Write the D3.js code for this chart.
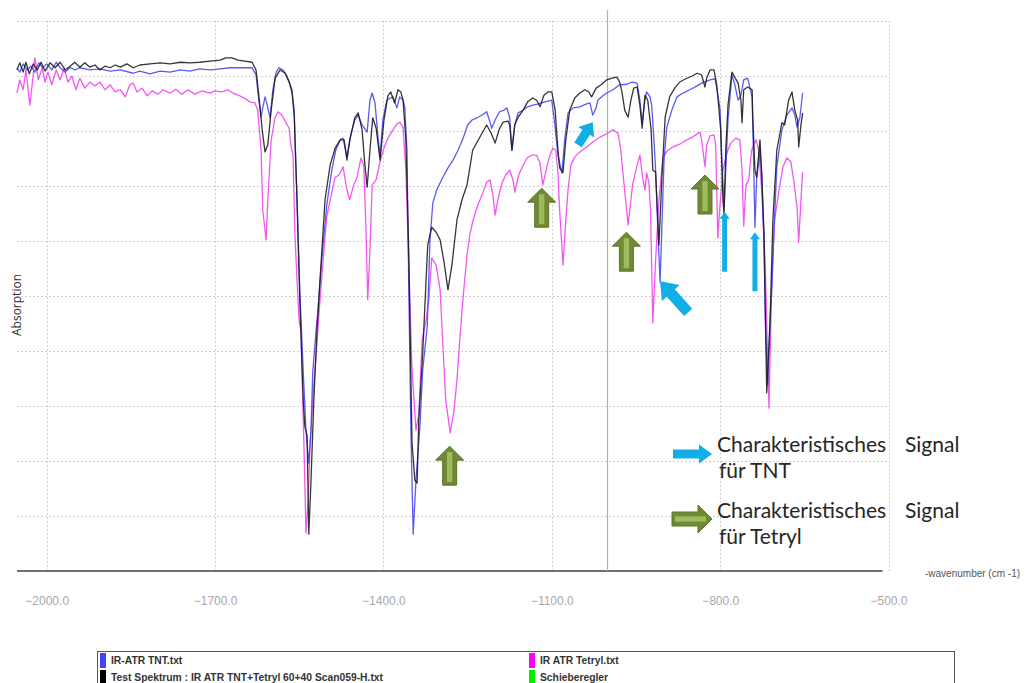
<!DOCTYPE html>
<html>
<head>
<meta charset="utf-8">
<script src="https://cdn.jsdelivr.net/npm/d3@7"></script>
<style>
  html, body { margin: 0; padding: 0; background: #fff; }
  svg { display: block; }
</style>
</head>
<body>
<svg id="chart" width="1028" height="683"></svg>
<script>
// ---- data: [negative wavenumber (cm-1), absorption (relative units)] ----
const tntSpectrum = [
  [-2053,91.5],[-2048,90.7],[-2042,92.2],[-2035,91.1],[-2028,91.8],[-2021,90.7],[-2014,92.4],[-2007,91.5],
  [-2000,92.2],[-1991,91.1],[-1983,92.5],[-1976,91.5],[-1967,90.7],[-1958,91.6],[-1950,91.1],[-1941,91.5],
  [-1923,91.1],[-1905,91.3],[-1887,90.9],[-1869,91.1],[-1846,90.5],[-1834,90.9],[-1816,90.4],[-1798,90.9],
  [-1780,90.7],[-1762,91.1],[-1745,90.9],[-1727,91.3],[-1709,91.1],[-1691,91.3],[-1673,91.5],[-1656,91.5],
  [-1643,91.5],[-1634,91.5],[-1627,90.2],[-1622,85.6],[-1618,82.5],[-1615,84.2],[-1611,86.2],[-1607,84.7],
  [-1602,82.4],[-1597,87.5],[-1591,90.7],[-1586,91.5],[-1579,91.1],[-1572,90.0],[-1567,88.7],[-1563,87.5],
  [-1559,83.8],[-1554,67.5],[-1549,51.1],[-1543,36.5],[-1538,25.6],[-1533,19.6],[-1529,25.6],[-1526,36.0],
  [-1520,43.8],[-1517,46.9],[-1510,56.5],[-1501,66.5],[-1492,72.9],[-1485,76.5],[-1477,78.4],[-1472,78.7],
  [-1465,75.3],[-1458,79.3],[-1451,82.0],[-1445,82.9],[-1438,81.1],[-1429,79.8],[-1424,85.6],[-1420,86.9],
  [-1415,85.1],[-1410,79.3],[-1406,75.3],[-1401,82.0],[-1394,85.6],[-1388,86.0],[-1383,86.2],[-1376,84.2],
  [-1371,86.2],[-1365,85.6],[-1362,84.4],[-1358,76.5],[-1355,52.9],[-1351,25.6],[-1347,6.7],[-1342,16.5],
  [-1335,26.2],[-1330,36.5],[-1322,44.4],[-1317,60.2],[-1312,66.9],[-1305,69.3],[-1294,71.6],[-1285,73.3],
  [-1276,74.7],[-1267,76.5],[-1258,78.7],[-1250,81.1],[-1242,82.0],[-1233,82.4],[-1224,82.9],[-1216,83.5],
  [-1210,81.6],[-1207,80.5],[-1201,82.0],[-1193,83.5],[-1185,83.8],[-1180,84.2],[-1175,82.4],[-1171,76.5],
  [-1166,81.1],[-1160,83.3],[-1151,83.8],[-1143,84.4],[-1134,84.7],[-1125,84.9],[-1112,85.3],[-1100,85.6],
  [-1094,80.7],[-1089,75.6],[-1082,72.4],[-1077,78.4],[-1071,83.3],[-1062,84.2],[-1050,84.4],[-1039,84.9],
  [-1032,85.1],[-1027,82.9],[-1021,84.2],[-1018,85.6],[-1009,86.4],[-1002,86.9],[-991,87.5],[-979,88.4],
  [-966,88.5],[-957,88.9],[-948,88.7],[-943,85.6],[-939,81.5],[-934,85.6],[-931,87.1],[-925,86.2],
  [-922,84.7],[-918,78.4],[-915,72.9],[-911,62.0],[-907,52.5],[-904,62.0],[-900,74.7],[-895,80.7],
  [-886,83.8],[-877,86.2],[-866,86.9],[-854,87.5],[-841,88.2],[-833,88.7],[-818,89.3],[-809,89.5],
  [-804,86.5],[-800,83.8],[-797,74.7],[-793,66.2],[-790,72.9],[-786,82.0],[-779,90.2],[-774,88.5],
  [-768,85.6],[-763,86.5],[-758,89.3],[-751,89.6],[-743,86.2],[-740,72.9],[-738,62.5],[-735,71.1],
  [-729,76.5],[-726,72.4],[-722,60.2],[-719,43.8],[-715,33.8],[-711,45.6],[-708,51.1],[-704,62.0],
  [-699,73.5],[-690,80.2],[-681,82.9],[-672,84.2],[-667,82.9],[-663,80.7],[-658,82.4],[-653,86.9]
];

const tetrylSpectrum = [
  [-2053,86.9],[-2048,89.3],[-2042,87.5],[-2037,91.1],[-2030,84.7],[-2024,90.2],[-2021,93.3],[-2015,89.3],
  [-2008,91.5],[-2003,88.9],[-1998,90.7],[-1991,88.4],[-1983,91.1],[-1976,89.3],[-1969,91.5],[-1962,88.9],
  [-1955,90.0],[-1948,87.5],[-1941,89.6],[-1932,87.8],[-1923,88.9],[-1914,88.2],[-1905,88.9],[-1896,87.5],
  [-1887,88.4],[-1878,87.1],[-1869,87.5],[-1860,86.2],[-1852,88.4],[-1846,88.7],[-1839,87.1],[-1830,87.8],
  [-1821,86.4],[-1812,87.3],[-1802,86.7],[-1793,87.5],[-1780,86.9],[-1770,87.6],[-1759,86.7],[-1748,87.5],
  [-1736,86.7],[-1723,87.3],[-1709,86.9],[-1700,87.3],[-1688,87.1],[-1677,87.5],[-1668,86.9],[-1656,86.4],
  [-1645,85.8],[-1638,85.3],[-1629,85.1],[-1624,83.8],[-1618,76.5],[-1615,65.6],[-1609,60.2],[-1606,67.5],
  [-1600,78.4],[-1593,82.5],[-1588,83.5],[-1581,82.9],[-1574,81.6],[-1568,80.5],[-1565,77.5],[-1561,75.6],
  [-1558,62.0],[-1554,52.9],[-1550,45.3],[-1547,43.8],[-1543,28.7],[-1538,6.9],[-1534,12.9],[-1531,22.5],
  [-1526,31.1],[-1520,39.3],[-1513,49.3],[-1506,58.4],[-1501,64.4],[-1493,68.4],[-1486,71.6],[-1479,72.0],
  [-1472,73.5],[-1465,69.3],[-1460,67.5],[-1453,70.2],[-1447,71.6],[-1440,75.1],[-1435,73.8],[-1431,62.0],
  [-1428,49.3],[-1424,58.4],[-1420,70.2],[-1413,71.1],[-1406,74.4],[-1399,76.9],[-1392,78.7],[-1383,80.2],
  [-1376,81.3],[-1371,81.6],[-1365,80.7],[-1360,72.9],[-1355,56.5],[-1349,36.5],[-1342,25.6],[-1337,28.4],
  [-1331,42.0],[-1324,45.6],[-1319,49.3],[-1314,56.9],[-1306,55.6],[-1299,51.1],[-1294,41.1],[-1289,31.1],
  [-1281,25.1],[-1274,29.3],[-1269,34.7],[-1264,42.0],[-1258,49.8],[-1251,57.5],[-1246,61.1],[-1241,63.5],
  [-1232,66.5],[-1223,68.7],[-1216,70.7],[-1210,71.1],[-1205,68.4],[-1201,64.7],[-1196,67.5],[-1189,70.5],
  [-1182,72.0],[-1175,72.9],[-1169,71.1],[-1166,68.9],[-1159,72.0],[-1152,73.6],[-1144,75.1],[-1136,75.6],
  [-1127,75.6],[-1121,74.2],[-1116,70.2],[-1110,72.9],[-1105,75.1],[-1098,76.9],[-1093,76.5],[-1089,72.5],
  [-1086,65.6],[-1080,55.6],[-1075,63.8],[-1071,69.3],[-1066,73.8],[-1059,75.3],[-1050,76.2],[-1038,77.1],
  [-1027,78.0],[-1014,78.9],[-1002,79.5],[-991,80.2],[-982,79.6],[-977,76.5],[-972,71.1],[-964,62.9],
  [-959,67.5],[-956,70.2],[-948,73.8],[-943,75.6],[-938,71.5],[-934,69.3],[-931,72.4],[-927,70.7],
  [-924,65.6],[-920,45.1],[-915,56.5],[-909,67.5],[-902,75.3],[-893,76.5],[-884,77.1],[-872,77.6],
  [-859,78.4],[-849,78.9],[-836,79.8],[-833,78.4],[-827,73.5],[-824,77.5],[-818,79.1],[-811,79.3],
  [-808,77.5],[-804,60.5],[-801,65.6],[-795,72.9],[-788,76.0],[-781,77.8],[-772,78.7],[-765,78.4],
  [-761,72.9],[-758,62.7],[-754,70.2],[-749,71.1],[-744,76.5],[-736,78.4],[-731,76.5],[-726,69.3],
  [-720,56.5],[-713,29.6],[-708,52.9],[-703,63.8],[-695,69.3],[-688,73.5],[-681,75.1],[-674,74.4],
  [-669,71.1],[-663,66.2],[-660,59.8],[-656,67.5],[-653,72.5]
];

const mixSpectrum = [
  [-2053,91.1],[-2048,92.4],[-2042,90.7],[-2037,92.5],[-2031,90.4],[-2024,92.2],[-2017,91.1],[-2010,92.5],
  [-2003,90.9],[-1994,92.4],[-1985,91.5],[-1976,92.5],[-1967,91.1],[-1958,91.8],[-1950,92.5],[-1941,91.6],
  [-1932,92.4],[-1923,91.6],[-1914,92.0],[-1905,91.1],[-1896,91.8],[-1887,91.5],[-1878,92.0],[-1869,91.6],
  [-1857,92.2],[-1846,91.5],[-1834,92.0],[-1816,92.2],[-1798,92.4],[-1780,92.2],[-1762,92.5],[-1745,92.4],
  [-1727,92.5],[-1709,92.7],[-1691,92.9],[-1681,93.3],[-1670,93.3],[-1659,92.9],[-1647,92.7],[-1634,92.5],
  [-1627,91.1],[-1622,86.5],[-1616,80.2],[-1611,76.2],[-1606,77.5],[-1600,83.8],[-1593,89.6],[-1584,91.1],
  [-1575,90.5],[-1568,88.9],[-1563,87.1],[-1559,82.9],[-1554,67.5],[-1549,49.3],[-1543,31.1],[-1540,26.2],
  [-1536,24.7],[-1533,6.7],[-1529,16.5],[-1524,31.1],[-1518,44.4],[-1513,52.9],[-1504,67.5],[-1495,73.8],
  [-1486,76.9],[-1477,78.4],[-1470,78.4],[-1465,74.7],[-1460,78.4],[-1451,82.4],[-1445,83.3],[-1438,80.2],
  [-1433,73.8],[-1429,69.8],[-1424,76.5],[-1419,82.4],[-1413,80.5],[-1406,74.7],[-1399,82.0],[-1392,86.4],
  [-1387,87.1],[-1380,85.1],[-1374,87.5],[-1369,87.1],[-1365,85.6],[-1360,78.4],[-1355,58.4],[-1349,23.3],
  [-1344,16.5],[-1340,16.0],[-1337,27.5],[-1330,39.6],[-1324,52.9],[-1321,59.3],[-1314,62.5],[-1306,61.6],
  [-1299,60.2],[-1292,56.2],[-1285,51.1],[-1278,55.6],[-1269,63.8],[-1260,67.5],[-1251,70.2],[-1241,76.5],
  [-1228,78.9],[-1216,81.1],[-1208,79.6],[-1201,77.8],[-1194,80.2],[-1187,81.6],[-1178,81.8],[-1175,81.1],
  [-1171,76.5],[-1166,81.1],[-1160,82.5],[-1151,83.8],[-1143,85.3],[-1134,86.0],[-1127,85.6],[-1121,84.4],
  [-1114,86.5],[-1107,87.1],[-1100,87.1],[-1094,83.8],[-1089,76.5],[-1086,73.3],[-1080,72.4],[-1075,78.4],
  [-1068,83.8],[-1059,86.0],[-1050,86.9],[-1041,87.5],[-1034,87.1],[-1029,86.2],[-1021,87.8],[-1012,88.4],
  [-1002,89.3],[-993,89.6],[-984,89.8],[-979,88.9],[-975,87.1],[-970,83.8],[-964,82.5],[-959,85.6],
  [-954,87.8],[-948,88.0],[-943,84.7],[-939,80.5],[-934,86.5],[-929,85.6],[-923,80.2],[-920,72.9],
  [-915,72.5],[-909,59.3],[-904,71.1],[-898,82.5],[-890,86.2],[-881,87.8],[-872,88.9],[-861,89.5],
  [-850,90.0],[-841,90.5],[-833,90.2],[-827,88.0],[-824,89.6],[-818,91.1],[-811,91.1],[-806,88.4],
  [-802,83.8],[-799,80.2],[-795,67.5],[-793,64.7],[-790,76.5],[-786,84.7],[-779,90.7],[-774,89.8],
  [-768,88.7],[-763,85.6],[-761,81.5],[-758,87.5],[-751,88.0],[-743,87.5],[-742,82.9],[-738,72.9],
  [-735,71.6],[-729,78.4],[-726,72.4],[-722,62.0],[-717,32.4],[-711,45.6],[-706,63.8],[-699,76.5],
  [-690,81.5],[-685,81.1],[-678,85.6],[-672,87.1],[-667,83.8],[-662,82.0],[-660,77.1],[-656,81.1],
  [-653,83.3]
];

const wavenumberTicks = [-2000, -1700, -1400, -1100, -800, -500];
const absorptionGrid = [10, 20, 30, 40, 50, 60, 70, 80, 90, 100];
const sliderPosition = -1002;

const seriesNames = ["IR-ATR TNT.txt", "IR ATR Tetryl.txt",
                     "Test Spektrum : IR ATR TNT+Tetryl 60+40 Scan059-H.txt", "Schieberegler"];
const seriesColors = ["#4444f0", "#f040f0", "#1a1a1a", "#22ee22"];

// marker arrows: tip position in data units
const tetrylMarkers = [[-1118, 69.6], [-967, 61.6], [-827, 72.0], [-1282, 22.7]];
const tntMarkers = [
  { wn: -1027, a: 81.6, angle: -57, len: 27, head: 12, headW: 19, shaftW: 9 },
  { wn: -907,  a: 52.7, angle: -132, len: 42, head: 16, headW: 24, shaftW: 11 },
  { wn: -792,  a: 65.3, angle: -90, len: 60, head: 7, headW: 10, shaftW: 5 },
  { wn: -738,  a: 61.6, angle: -90, len: 59, head: 7, headW: 10, shaftW: 5 }
];

// ---- layout ----
const svg = d3.select("#chart");
const plotLeft = 17, plotRight = 888.5, plotTop = 21, plotBottom = 571;

const x = d3.scaleLinear().domain([-2000, -500]).range([46.7, 888.5]);
const y = d3.scaleLinear().domain([0, 100]).range([plotBottom, plotTop]);

// grid
const grid = svg.append("g").attr("stroke", "#cfcfcf").attr("stroke-dasharray", "2,2").attr("stroke-width", 1);
grid.selectAll("line.h").data(absorptionGrid).join("line")
  .attr("x1", plotLeft).attr("x2", plotRight)
  .attr("y1", d => Math.round(y(d)) + 0.5).attr("y2", d => Math.round(y(d)) + 0.5);
grid.selectAll("line.v").data(wavenumberTicks).join("line")
  .attr("x1", d => Math.round(x(d)) + 0.5).attr("x2", d => Math.round(x(d)) + 0.5)
  .attr("y1", plotTop).attr("y2", plotBottom);

// x axis
const xAxis = d3.axisBottom(x).tickValues(wavenumberTicks).tickSize(0).tickPadding(25)
  .tickFormat(d3.format(".1f"));
const axisG = svg.append("g").attr("transform", `translate(0,${plotBottom})`).call(xAxis);
axisG.select(".domain").remove();
axisG.selectAll("text").attr("fill", "#a8a8a8").attr("font-family", "'Liberation Sans Narrow', 'Liberation Sans', Arial, sans-serif")
  .attr("font-size", 12);
svg.append("line").attr("x1", plotLeft).attr("x2", plotRight - 6)
  .attr("y1", plotBottom).attr("y2", plotBottom).attr("stroke", "#707070").attr("stroke-width", 2);

svg.append("text").attr("x", 925).attr("y", 577).text("-wavenumber (cm -1)")
  .attr("font-family", "Liberation Sans, Arial, sans-serif").attr("font-size", 10).attr("fill", "#555");

svg.append("text").attr("transform", "translate(21,305) rotate(-90)").attr("text-anchor", "middle")
  .text("Absorption").attr("font-family", "Open Sans, sans-serif").attr("font-size", 12).attr("fill", "#333");

// slider line
svg.append("line").attr("x1", Math.round(x(sliderPosition)) + 0.5).attr("x2", Math.round(x(sliderPosition)) + 0.5)
  .attr("y1", 10).attr("y2", plotBottom).attr("stroke", "#70e070").attr("stroke-width", 1.2);

// spectra
const line = d3.line().x(d => x(d[0])).y(d => y(d[1]));
const spectra = [[tetrylSpectrum, seriesColors[1]], [tntSpectrum, seriesColors[0]], [mixSpectrum, seriesColors[2]]];
svg.append("g").selectAll("path").data(spectra).join("path")
  .attr("d", d => line(d[0])).attr("fill", "none").attr("stroke", d => d[1])
  .attr("stroke-width", 1.3).attr("stroke-linejoin", "round").attr("opacity", 0.88);

// block arrow polygon pointing along +x, tip at origin
function arrowPoints(len, head, headW, shaftW) {
  return [[0, 0], [-head, headW / 2], [-head, shaftW / 2], [-len, shaftW / 2],
          [-len, -shaftW / 2], [-head, -shaftW / 2], [-head, -headW / 2]];
}
function greenArrow(g, tx, ty, angle, len, head, headW, shaftW) {
  const a = g.append("g").attr("transform", `translate(${tx},${ty}) rotate(${angle})`);
  a.append("polygon").attr("points", arrowPoints(len, head, headW, shaftW).join(" "))
    .attr("fill", "#6f8a34").attr("stroke", "#5c7429").attr("stroke-width", 1).attr("stroke-linejoin", "miter");
  a.append("line").attr("x1", -len + 3).attr("x2", -6).attr("y1", 0).attr("y2", 0)
    .attr("stroke", "#9fbb5e").attr("stroke-width", shaftW * 0.38);
}
function blueArrow(g, tx, ty, angle, len, head, headW, shaftW) {
  g.append("polygon").attr("points", arrowPoints(len, head, headW, shaftW).join(" "))
    .attr("transform", `translate(${tx},${ty}) rotate(${angle})`).attr("fill", "#12aee8");
}

const ann = svg.append("g");
tetrylMarkers.forEach(d => greenArrow(ann, x(d[0]), y(d[1]), -90, 39, 14, 28, 14));
tntMarkers.forEach(d => blueArrow(ann, x(d.wn), y(d.a), d.angle, d.len, d.head, d.headW, d.shaftW));

// explanation block
blueArrow(ann, 712, 454, 0, 39, 13, 19, 9);
greenArrow(ann, 712, 519, 0, 40, 14, 28, 14);
const noteFont = "Lato, 'Open Sans', sans-serif";
const notes = [
  ["Charakteristisches", 717, 452], ["Signal", 905, 452], ["für TNT", 719, 478],
  ["Charakteristisches", 717, 518], ["Signal", 905, 518], ["für Tetryl", 719, 544]
];
svg.append("g").selectAll("text").data(notes).join("text")
  .attr("x", d => d[1]).attr("y", d => d[2]).text(d => d[0])
  .attr("font-family", noteFont).attr("font-size", 21).attr("fill", "#262626");

// legend
const lg = svg.append("g").attr("font-family", "'Liberation Sans Narrow', 'Liberation Sans', Arial, sans-serif")
  .attr("font-size", 10.3).attr("font-weight", "bold").attr("fill", "#333");
lg.append("rect").attr("x", 97.5).attr("y", 651.5).attr("width", 857).attr("height", 40)
  .attr("fill", "none").attr("stroke", "#555");
const legendItems = [
  { name: seriesNames[0], color: seriesColors[0], col: 0, row: 0 },
  { name: seriesNames[2], color: "#000", col: 0, row: 1 },
  { name: seriesNames[1], color: "#ff00ff", col: 1, row: 0 },
  { name: seriesNames[3], color: "#00ee00", col: 1, row: 1 }
];
const colX = [100, 529], rowY = [653, 670];
legendItems.forEach(d => {
  lg.append("rect").attr("x", colX[d.col]).attr("y", rowY[d.row]).attr("width", 6).attr("height", 15)
    .attr("fill", d.color);
  lg.append("text").attr("x", colX[d.col] + 11).attr("y", rowY[d.row] + 11).text(d.name);
});
</script>
</body>
</html>
